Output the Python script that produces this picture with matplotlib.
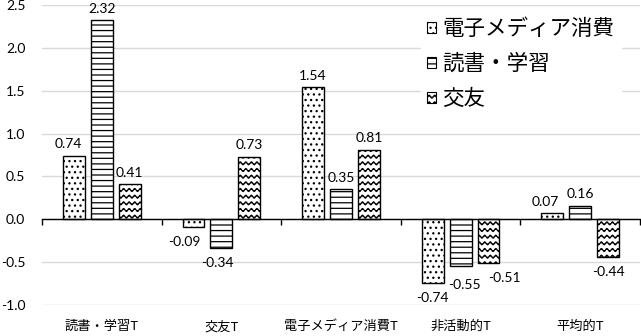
import warnings
import numpy as np
import matplotlib
matplotlib.use("Agg")
import matplotlib.pyplot as plt
import matplotlib.hatch as mhatch
from matplotlib.path import Path
from matplotlib.patches import Patch

warnings.filterwarnings("ignore")

# ---------------- data ----------------
categories = ["読書・学習T", "交友T", "電子メディア消費T", "非活動的T", "平均的T"]
series_names = ["電子メディア消費", "読書・学習", "交友"]
media = [0.74, -0.09, 1.54, -0.74, 0.07]
study = [2.32, -0.34, 0.35, -0.55, 0.16]
friends = [0.41, 0.73, 0.81, -0.51, -0.44]
y_ticks = [-1.0, -0.5, 0.0, 0.5, 1.0, 1.5, 2.0, 2.5]

# label nudges (pixels) to mimic the reference's data-label placement
label_nudge = {(0, 0): (-6, 0), (0, 1): (-9, 0), (1, 1): (-4, 0),
               (1, 3): (4, -4), (2, 3): (16, 0), (0, 4): (-7, 0)}


# ---------------- custom wave hatch ----------------
class WaveHatch(mhatch.HatchPatternBase):
    def __init__(self, hatch, density):
        self.num_lines = int(hatch.count('~') * density * 5 / 6)
        self.periods = 18
        self.npts = 8 * self.periods + 1
        self.num_vertices = self.num_lines * self.npts if self.num_lines else 0

    def set_vertices_and_codes(self, vertices, codes):
        if not self.num_lines:
            return
        step = 1.0 / self.num_lines
        amp = step * 0.22
        xs = np.linspace(0, 1, self.npts)
        wave = amp * np.sin(2 * np.pi * self.periods * xs)
        for i in range(self.num_lines):
            sl = slice(i * self.npts, (i + 1) * self.npts)
            vertices[sl, 0] = xs
            vertices[sl, 1] = (i + 0.5) * step + wave
            codes[sl] = Path.LINETO
            codes[i * self.npts] = Path.MOVETO


mhatch._hatch_types.append(WaveHatch)

plt.rcParams['font.family'] = ['Lato', 'Noto Sans CJK JP', 'DejaVu Sans']
plt.rcParams['hatch.linewidth'] = 0.9
plt.rcParams['hatch.color'] = 'black'

fig = plt.figure(figsize=(6.41, 3.36), dpi=100)
ax = fig.add_axes([42 / 641, 31 / 336, 598 / 641, 300 / 336])

x = np.arange(len(categories))
width = 0.183
offset = 0.233
hatches = ['...', '---', '~~~']
series = [media, study, friends]
px = 0.72  # points per pixel at 100 dpi

for k, (vals, h) in enumerate(zip(series, hatches)):
    bars = ax.bar(x + (k - 1) * offset, vals, width, facecolor='white',
                  edgecolor='black', linewidth=1.0, hatch=h, zorder=3)
    for i, (b, v) in enumerate(zip(bars, vals)):
        cx = b.get_x() + b.get_width() / 2
        dx, dy = label_nudge.get((k, i), (0, 0))
        if v >= 0:
            ax.annotate(f"{v:.2f}", (cx, v), xytext=(dx * px, 4 + dy * px),
                        textcoords='offset points',
                        ha='center', va='bottom', fontsize=10, zorder=5)
        else:
            ax.annotate(f"{v:.2f}", (cx, v), xytext=(dx * px, -6.5 + dy * px),
                        textcoords='offset points',
                        ha='center', va='top', fontsize=10, zorder=5)

ax.set_xlim(-0.5, len(categories) - 0.5)
ax.set_ylim(y_ticks[0], y_ticks[-1])
ax.set_yticks(y_ticks)
ax.set_yticklabels([f"{t:.1f}" for t in y_ticks], fontsize=10)
ax.yaxis.grid(True, color='#d9d9d9', linewidth=1.0, zorder=0)
ax.set_axisbelow(True)
ax.tick_params(axis='y', length=0, pad=12)

for s in ['left', 'right', 'top']:
    ax.spines[s].set_visible(False)
ax.spines['bottom'].set_position(('data', 0))
ax.spines['bottom'].set_color('black')
ax.spines['bottom'].set_linewidth(1.0)
ax.spines['bottom'].set_zorder(4)
ax.set_xticks(np.arange(len(categories) + 1) - 0.5)
ax.tick_params(axis='x', length=4, width=1, direction='out', labelbottom=False)

sec = ax.secondary_xaxis('bottom')
sec.spines['bottom'].set_visible(False)
sec.set_xticks(x)
sec.set_xticklabels(categories, fontsize=9.5, family=['Noto Sans CJK JP'])
sec.tick_params(axis='x', length=0, pad=11)

handles = [Patch(facecolor='white', edgecolor='black', linewidth=0.8, hatch=h)
           for h in hatches]
leg = fig.legend(handles, series_names, loc='upper left',
                 bbox_to_anchor=(410 / 641, 1 - 1 / 336),
                 prop={'family': ['Noto Sans CJK JP'], 'size': 15.5},
                 frameon=True, facecolor='white', edgecolor='white', framealpha=1,
                 handlelength=0.4, handleheight=0.4, handletextpad=0.3,
                 labelspacing=0.6, borderpad=0.3, fancybox=False)

fig.savefig("out.png", dpi=100)
